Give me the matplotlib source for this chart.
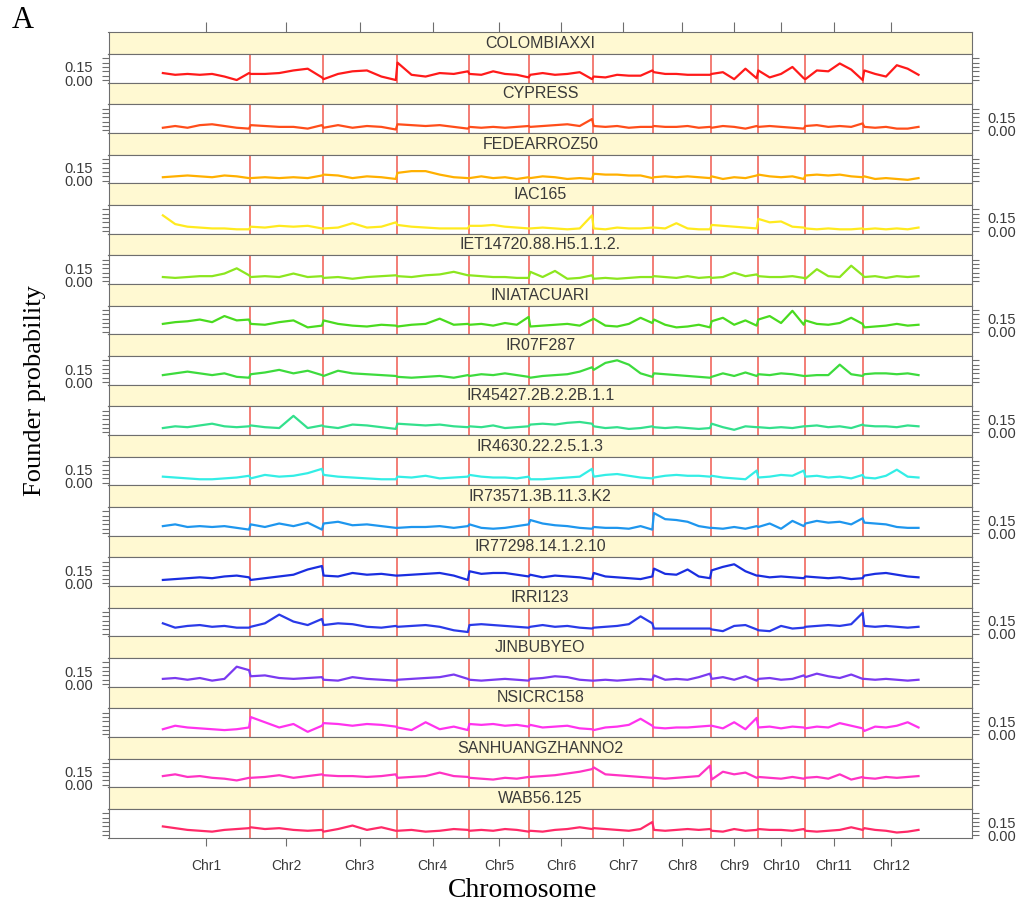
import numpy as np
import matplotlib
matplotlib.use("Agg")
import matplotlib.pyplot as plt

plt.rcParams["font.family"] = ["Liberation Sans", "DejaVu Sans"]

# chromosome sizes (Mb) and labels
chrom_labels = ["Chr1", "Chr2", "Chr3", "Chr4", "Chr5", "Chr6",
                "Chr7", "Chr8", "Chr9", "Chr10", "Chr11", "Chr12"]
chrom_len = [43.27, 35.94, 36.41, 35.50, 29.96, 31.25,
             29.70, 28.44, 23.01, 23.21, 29.02, 27.53]
# number of markers read per chromosome
chrom_pts = [8, 6, 6, 6, 6, 6, 6, 6, 5, 5, 6, 6]

names = ["COLOMBIAXXI", "CYPRESS", "FEDEARROZ50", "IAC165",
         "IET14720.88.H5.1.1.2.", "INIATACUARI", "IR07F287",
         "IR45427.2B.2.2B.1.1", "IR4630.22.2.5.1.3", "IR73571.3B.11.3.K2",
         "IR77298.14.1.2.10", "IRRI123", "JINBUBYEO", "NSICRC158",
         "SANHUANGZHANNO2", "WAB56.125"]

colombiaxxi = [.08, .06, .07, .06, .07, .04, .00, .08,  .07, .07, .08, .11, .13, .03,
               .01, .07, .10, .11, .04, .00,  .20, .06, .04, .08, .07, .10,
               .07, .06, .10, .07, .06, .03,  .06, .08, .06, .07, .09, .01,
               .04, .03, .06, .05, .05, .11,  .09, .07, .07, .06, .06, .06,
               .07, .09, .01, .13, .02,  .11, .03, .07, .15, .02,
               .01, .11, .10, .19, .12, .00,  .11, .07, .04, .17, .13, .06]
cypress = [.03, .05, .03, .06, .07, .05, .03, .02,  .06, .05, .04, .04, .02, .06,
           .03, .06, .03, .05, .04, .01,  .07, .06, .05, .06, .04, .02,
           .04, .03, .04, .03, .04, .05,  .04, .05, .06, .07, .05, .13,
           .05, .04, .05, .03, .04, .04,  .05, .04, .04, .05, .03, .04,
           .03, .05, .04, .02, .05,  .04, .05, .04, .03, .02,
           .05, .06, .04, .05, .04, .08,  .04, .03, .04, .02, .02, .04]
fedearroz50 = [.04, .05, .06, .05, .04, .06, .05, .03,  .03, .04, .03, .04, .03, .06,
               .07, .06, .03, .05, .04, .02,  .09, .11, .11, .07, .04, .03,
               .03, .05, .03, .04, .02, .04,  .03, .05, .04, .02, .03, .02,
               .08, .07, .07, .06, .06, .03,  .04, .05, .04, .05, .04, .03,
               .05, .02, .04, .03, .06,  .07, .05, .04, .05, .02,
               .06, .07, .06, .07, .05, .04,  .05, .02, .03, .02, .01, .03]
iac165 = [.18, .08, .05, .04, .03, .03, .02, .02,  .05, .04, .06, .05, .06, .03,
          .03, .04, .09, .04, .05, .10,  .07, .05, .04, .03, .03, .03,
          .06, .06, .07, .05, .04, .03,  .03, .04, .03, .02, .03, .18,
          .03, .02, .04, .03, .03, .04,  .04, .03, .09, .03, .02, .02,
          .07, .06, .05, .04, .03,  .14, .10, .11, .05, .04,
          .03, .02, .03, .02, .02, .03,  .02, .03, .02, .03, .02, .04]
iet14720 = [.05, .04, .05, .06, .06, .09, .15, .07,  .05, .06, .05, .09, .05, .06,
            .04, .05, .03, .05, .06, .07,  .06, .05, .07, .08, .11, .07,
            .07, .06, .05, .05, .04, .04,  .11, .05, .12, .03, .04, .07,
            .03, .04, .03, .04, .05, .05,  .06, .05, .04, .06, .04, .05,
            .04, .05, .10, .06, .08,  .06, .05, .05, .06, .04,
            .03, .14, .06, .05, .18, .07,  .05, .06, .04, .06, .05, .06]
iniatacuari = [.09, .11, .12, .14, .11, .18, .13, .14,  .09, .08, .11, .13, .05, .07,
               .13, .09, .07, .06, .08, .07,  .06, .08, .09, .15, .08, .09,
               .08, .09, .07, .10, .08, .17,  .06, .07, .08, .09, .07, .14,
               .15, .07, .06, .09, .16, .10,  .14, .08, .05, .06, .08, .05,
               .12, .16, .08, .13, .07,  .14, .18, .10, .24, .08,
               .13, .09, .08, .10, .16, .09,  .05, .06, .07, .09, .07, .08]
ir07f287 = [.08, .10, .12, .10, .08, .10, .06, .05,  .09, .11, .14, .10, .13, .08,
            .07, .13, .10, .09, .08, .07,  .06, .05, .06, .07, .05, .08,
            .07, .09, .08, .10, .08, .06,  .05, .07, .08, .09, .12, .17,
            .14, .22, .25, .20, .10, .06,  .10, .09, .08, .07, .06, .05,
            .06, .10, .07, .11, .07,  .09, .08, .10, .09, .07,
            .07, .08, .08, .20, .09, .07,  .09, .10, .10, .09, .10, .08]
ir45427 = [.05, .07, .06, .08, .10, .07, .06, .07,  .08, .06, .05, .19, .05, .08,
           .07, .05, .09, .08, .06, .04,  .10, .09, .08, .09, .07, .06,
           .07, .06, .08, .05, .06, .07,  .09, .10, .09, .11, .12, .10,
           .07, .05, .06, .04, .05, .07,  .06, .05, .06, .05, .04, .05,
           .10, .06, .03, .07, .06,  .06, .05, .06, .05, .07,
           .07, .08, .06, .07, .05, .09,  .08, .07, .07, .06, .08, .07]
ir4630 = [.07, .06, .05, .04, .04, .05, .06, .08,  .05, .09, .07, .08, .11, .16,
          .09, .07, .06, .05, .04, .04,  .07, .06, .08, .05, .06, .07,
          .09, .07, .06, .06, .05, .07,  .04, .04, .05, .06, .07, .16,
          .07, .09, .10, .08, .06, .05,  .06, .08, .09, .08, .08, .07,
          .08, .06, .05, .04, .14,  .06, .07, .09, .08, .14,
          .07, .08, .06, .07, .05, .09,  .06, .05, .08, .15, .07, .06]
ir73571 = [.08, .10, .07, .08, .07, .08, .06, .04,  .10, .07, .11, .08, .12, .04,
           .11, .13, .09, .10, .08, .06,  .06, .07, .07, .08, .06, .08,
           .10, .06, .05, .06, .08, .10,  .15, .11, .09, .08, .06, .05,
           .07, .06, .06, .05, .08, .04,  .23, .16, .15, .13, .08, .06,
           .06, .05, .07, .05, .08,  .07, .11, .05, .14, .08,
           .11, .14, .12, .13, .10, .17,  .12, .11, .10, .07, .06, .06]
ir77298 = [.04, .05, .06, .07, .06, .08, .09, .07,  .04, .06, .08, .10, .16, .20,
           .09, .08, .12, .10, .11, .09,  .09, .10, .11, .12, .09, .04,
           .14, .11, .12, .12, .10, .08,  .10, .07, .09, .08, .07, .05,
           .12, .08, .07, .06, .05, .08,  .17, .11, .10, .16, .08, .06,
           .15, .19, .22, .14, .09,  .09, .07, .08, .07, .06,
           .08, .07, .06, .07, .05, .06,  .09, .11, .12, .10, .08, .07]
irri123 = [.12, .07, .09, .10, .08, .09, .07, .07,  .08, .12, .22, .14, .10, .17,
           .10, .12, .11, .08, .07, .09,  .08, .09, .10, .08, .04, .02,
           .10, .11, .10, .09, .08, .07,  .08, .10, .08, .09, .07, .06,
           .07, .08, .09, .11, .20, .12,  .06, .06, .06, .06, .06, .06,
           .05, .03, .09, .10, .05,  .04, .03, .09, .06, .07,
           .08, .09, .10, .09, .11, .24,  .09, .08, .09, .08, .07, .08]
jinbubyeo = [.06, .07, .05, .07, .04, .06, .20, .16,  .09, .10, .07, .06, .07, .08,
             .05, .04, .08, .06, .05, .04,  .05, .06, .07, .08, .11, .06,
             .05, .04, .05, .06, .05, .04,  .06, .07, .09, .08, .05, .04,
             .04, .05, .04, .05, .06, .05,  .10, .05, .06, .05, .08, .12,
             .06, .08, .05, .09, .04,  .06, .07, .05, .06, .10,
             .08, .12, .09, .07, .11, .06,  .06, .05, .06, .05, .04, .05]
nsicrc158 = [.06, .10, .08, .07, .06, .05, .06, .08,  .20, .14, .08, .12, .03, .10,
             .13, .12, .10, .12, .11, .09,  .08, .05, .14, .06, .09, .05,
             .12, .11, .12, .10, .11, .09,  .11, .08, .09, .10, .07, .06,
             .05, .08, .09, .11, .18, .10,  .08, .07, .08, .08, .09, .10,
             .10, .07, .14, .06, .19,  .08, .09, .07, .09, .08,
             .07, .09, .08, .13, .10, .07,  .04, .09, .08, .10, .14, .08]
sanhuangzhanno2 = [.10, .12, .09, .10, .08, .07, .05, .08,  .08, .09, .11, .08, .10, .12,
                   .11, .10, .10, .09, .10, .12,  .08, .09, .10, .14, .10, .09,
                   .08, .07, .06, .08, .07, .09,  .09, .10, .11, .13, .15, .18,
                   .20, .12, .11, .10, .09, .08,  .08, .07, .08, .09, .10, .22,
                   .06, .15, .12, .14, .08,  .09, .08, .07, .09, .07,
                   .08, .09, .07, .12, .06, .09,  .08, .07, .09, .08, .09, .10]
wab56 = [.10, .08, .06, .05, .04, .06, .07, .08,  .09, .07, .08, .06, .05, .06,
         .04, .07, .11, .06, .09, .05,  .05, .06, .04, .05, .07, .06,
         .05, .06, .05, .07, .06, .04,  .05, .04, .06, .07, .09, .07,
         .08, .07, .06, .05, .07, .15,  .06, .05, .06, .07, .06, .07,
         .05, .04, .07, .05, .06,  .07, .06, .06, .05, .07,
         .05, .04, .05, .06, .09, .06,  .08, .06, .05, .03, .04, .06]

series = [colombiaxxi, cypress, fedearroz50, iac165, iet14720, iniatacuari,
          ir07f287, ir45427, ir4630, ir73571, ir77298, irri123, jinbubyeo,
          nsicrc158, sanhuangzhanno2, wab56]
colors = ["#FF1A1A", "#FF4D1A", "#FFB000", "#FFEA1F", "#8CE61F", "#4ADB1F",
          "#3DDB3D", "#33E08C", "#33EEE6", "#1E96EE", "#1A2EE0", "#2A3AE8",
          "#7A3AF0", "#FF33EE", "#FF33C4", "#FF2A68"]

# marker positions along the concatenated genome
offsets = np.concatenate([[0], np.cumsum(chrom_len)[:-1]])
pos = np.concatenate([o + np.linspace(0.4, L - 0.4, n)
                      for o, L, n in zip(offsets, chrom_len, chrom_pts)])
bounds = np.cumsum(chrom_len)[:-1]
centers = offsets + np.array(chrom_len) / 2

W, H = 1018, 911
fig = plt.figure(figsize=(W / 100, H / 100), dpi=100)
left, right = 108.5, 972
top0, pitch, strip_h = 32.3, 50.34, 21.6
xlim = (-26.4, 399.2)
frame = "#6e6e6e"

for i, (name, vals, col) in enumerate(zip(names, series, colors)):
    st = top0 + i * pitch
    sax = fig.add_axes([left / W, 1 - (st + strip_h) / H, (right - left) / W, strip_h / H])
    sax.set_facecolor("#FFF9D2")
    sax.set_xlim(xlim)
    sax.set_yticks([])
    for s in sax.spines.values():
        s.set_color(frame)
    sax.text(0.5, 0.48, name, transform=sax.transAxes, ha="center", va="center",
             fontsize=11.5, color="#3a3a3a")
    if i == 0:
        sax.set_xticks(centers)
        sax.tick_params(axis="x", top=True, bottom=False, labeltop=False,
                        labelbottom=False, length=7, color=frame)
    else:
        sax.set_xticks([])

    ax = fig.add_axes([left / W, 1 - (st + pitch) / H, (right - left) / W, (pitch - strip_h) / H])
    for b in bounds:
        ax.axvline(b, color="#F05A50", lw=1.1)
    ax.plot(pos, vals, color=col, lw=1.6)
    ax.set_xlim(xlim)
    ax.set_ylim(-0.03, 0.30)
    ax.set_yticks([0, 0.05, 0.10, 0.15, 0.20, 0.25])
    ax.set_yticklabels(["0.00", "", "", "0.15", "", ""])
    ax.tick_params(axis="y", left=True, right=True, labelleft=(i % 2 == 0),
                   labelright=(i % 2 == 1), length=5, color=frame, labelsize=10.5,
                   labelcolor="#3a3a3a", pad=6)
    for s in ax.spines.values():
        s.set_color(frame)
    if i == len(names) - 1:
        ax.set_xticks(centers)
        ax.set_xticklabels(chrom_labels)
        ax.tick_params(axis="x", length=6, color=frame, labelsize=10,
                       labelcolor="#3a3a3a", pad=9)
    else:
        ax.set_xticks([])

fig.text(0.034, 0.571, "Founder probability", rotation=90, ha="center", va="center",
         fontsize=19, family="Liberation Serif")
fig.text(0.513, 0.023, "Chromosome", ha="center", va="center",
         fontsize=20, family="Liberation Serif")
fig.text(0.022, 0.978, "A", ha="center", va="center", fontsize=22,
         family="Liberation Serif")

fig.savefig("out.png", dpi=100)
